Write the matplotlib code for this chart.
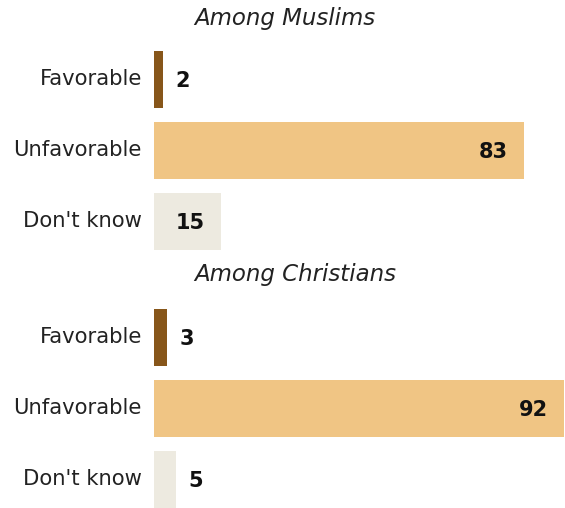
import matplotlib.pyplot as plt

# donnees
groupes = ['Among Muslims', 'Among Christians']
categories = ['Favorable', 'Unfavorable', "Don't know"]
valeurs = [[2, 83, 15], [3, 92, 5]]
couleurs = ['#87561A', '#F0C584', '#EDEAE0']

W, H = 565, 508
fig = plt.figure(figsize=(W / 100, H / 100), dpi=100)
ax = fig.add_axes([0, 0, 1, 1])
k = 410 / 92  # px par unite
x0 = 154
ax.set_xlim(-x0 / k, (W - x0) / k)
ax.set_ylim(H, 0)
ax.axis('off')

titre_y = [18, 275]
debut_y = [79, 337]
pas = 71
hauteur = 57

for g, nom in enumerate(groupes):
    ax.text(194 / k - x0 / k, titre_y[g], nom, fontsize=16.5, style='italic',
            ha='left', va='center', color='#222222')
    for i, cat in enumerate(categories):
        y = debut_y[g] + i * pas
        v = valeurs[g][i]
        ax.barh(y, v, height=hauteur, color=couleurs[i], left=0)
        ax.text(-12 / k, y, cat, fontsize=15.2, ha='right', va='center', color='#222222')
        if v >= 10:
            ax.text(v - 16 / k, y + 2, str(v), fontsize=15, fontweight='bold',
                    ha='right', va='center', color='#111111')
        else:
            ax.text(v + 12 / k, y + 2, str(v), fontsize=15, fontweight='bold',
                    ha='left', va='center', color='#111111')

fig.savefig('out.png', dpi=100)
